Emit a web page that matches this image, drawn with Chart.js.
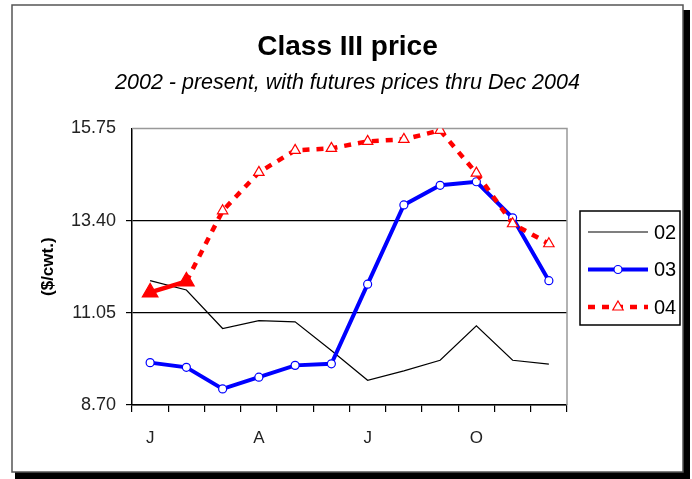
<!DOCTYPE html>
<html>
<head>
<meta charset="utf-8">
<script src="https://cdn.jsdelivr.net/npm/chart.js@4/dist/chart.umd.min.js"></script>
<style>
  html, body { margin: 0; padding: 0; background: #fff; }
  #wrap { width: 692px; height: 479px; }
</style>
</head>
<body>
<div id="wrap"><canvas id="chart" width="692" height="479"></canvas></div>
<script>
// months of the year, only J / A / J / O are labelled
const months = ['J', 'F', 'M', 'A', 'M', 'J', 'J', 'A', 'S', 'O', 'N', 'D'];
const yTicks = [8.70, 11.05, 13.40, 15.75];

// Class III price, $/cwt.
const price02 = [11.87, 11.63, 10.65, 10.85, 10.82, 10.09, 9.33, 9.57, 9.84, 10.72, 9.84, 9.74];
const price03 = [9.78, 9.66, 9.11, 9.41, 9.71, 9.75, 11.78, 13.80, 14.30, 14.39, 13.47, 11.87];
const price04 = [11.57, 11.85, 13.65, 14.63, 15.19, 15.24, 15.42, 15.47, 15.70, 14.61, 13.32, 12.81];
const actual04 = 2; // first months of 04 are actual prices, rest are futures

const FONT = '"Liberation Sans", Arial, sans-serif';

const framePlugin = {
  id: 'frame',
  beforeDraw(chart) {
    const c = chart.ctx;
    c.save();
    c.fillStyle = '#fff';
    c.fillRect(0, 0, chart.width, chart.height);
    // drop shadow
    c.fillStyle = '#000';
    c.fillRect(683, 10, 7, 469);
    c.fillRect(15, 472, 675, 7);
    c.strokeStyle = '#555';
    c.lineWidth = 1.5;
    c.strokeRect(12, 5, 671, 467);
    c.restore();
  },
  beforeDatasetsDraw(chart) {
    const a = chart.chartArea;
    const c = chart.ctx;
    c.save();
    c.strokeStyle = '#999';
    c.lineWidth = 1.5;
    c.beginPath();
    c.moveTo(a.left, a.top);
    c.lineTo(a.right, a.top);
    c.lineTo(a.right, a.bottom);
    c.stroke();
    c.restore();
  },
  afterDraw(chart) {
    // legend box, Excel style: line with marker in the middle
    const a = chart.chartArea;
    const c = chart.ctx;
    const x0 = a.right + 13, y0 = 211, w = 100, h = 114;
    c.save();
    c.strokeStyle = '#000';
    c.lineWidth = 1.5;
    c.strokeRect(x0, y0, w, h);
    chart.data.datasets.forEach((ds, i) => {
      const y = y0 + 21 + i * 37.5;
      c.strokeStyle = ds.borderColor;
      c.lineWidth = ds.borderWidth;
      c.setLineDash(ds.legendDash || []);
      c.beginPath();
      c.moveTo(x0 + 8, y);
      c.lineTo(x0 + 68, y);
      c.stroke();
      c.setLineDash([]);
      if (ds.legendRadius) {
        c.fillStyle = '#fff';
        c.strokeStyle = ds.borderColor;
        c.lineWidth = 1.2;
        Chart.helpers.drawPoint(c, { pointStyle: ds.pointStyle, radius: ds.legendRadius, rotation: 0, borderWidth: 1.2 }, x0 + 38, y);
      }
      c.fillStyle = '#000';
      c.font = '20px ' + FONT;
      c.textBaseline = 'middle';
      c.fillText(ds.label, x0 + 74, y + 1);
    });
    c.restore();
  }
};

new Chart(document.getElementById('chart'), {
  type: 'line',
  data: {
    labels: months,
    datasets: [
      {
        label: '02',
        data: price02,
        borderColor: '#000',
        borderWidth: 1.2,
        pointRadius: 0,
        order: 2
      },
      {
        label: '03',
        data: price03,
        borderColor: '#0000ff',
        borderWidth: 4,
        pointStyle: 'circle',
        pointRadius: 4,
        pointBackgroundColor: '#fff',
        pointBorderColor: '#0000ff',
        pointBorderWidth: 1.2,
        legendRadius: 4,
        order: 1
      },
      {
        label: '04',
        data: price04,
        borderColor: '#ff0000',
        borderWidth: 4.5,
        pointStyle: 'triangle',
        pointRadius: price04.map((v, i) => i < actual04 ? 9 : 6),
        pointBackgroundColor: price04.map((v, i) => i < actual04 ? '#ff0000' : '#fff'),
        pointBorderColor: '#ff0000',
        pointBorderWidth: 1.2,
        segment: {
          borderDash: ctx => ctx.p0DataIndex >= actual04 - 1 ? [7, 7] : undefined
        },
        legendDash: [7, 7],
        legendRadius: 6,
        order: 0
      }
    ]
  },
  options: {
    responsive: false,
    animation: false,
    events: [],
    layout: { padding: { top: 30, left: 12, right: 9, bottom: 24 } },
    elements: { line: { tension: 0 } },
    plugins: {
      legend: { display: false },
      tooltip: { enabled: false },
      title: {
        display: true,
        text: 'Class III price',
        color: '#000',
        font: { family: FONT, size: 28, weight: 'bold' },
        padding: { top: 0, bottom: 3 }
      },
      subtitle: {
        display: true,
        text: '2002 - present, with futures prices thru Dec 2004',
        color: '#000',
        font: { family: FONT, size: 21.5, style: 'italic' },
        padding: { top: 4, bottom: 32 }
      }
    },
    scales: {
      x: {
        offset: true,
        afterFit: s => { s.height = 50; },
        border: { color: '#000', width: 1.5 },
        grid: {
          offset: true,
          drawOnChartArea: false,
          color: '#000',
          lineWidth: 1.2,
          tickLength: 7
        },
        ticks: {
          autoSkip: false,
          maxRotation: 0,
          padding: 16,
          color: '#222',
          font: { family: FONT, size: 17 },
          callback: (v, i) => i % 3 === 0 ? months[i] : ''
        }
      },
      y: {
        min: 8.70,
        max: 15.75,
        afterFit: s => { s.width = 120; },
        afterBuildTicks: s => { s.ticks = yTicks.map(v => ({ value: v })); },
        border: { color: '#000', width: 1.5 },
        grid: {
          color: ctx => ctx.tick && ctx.tick.value === 15.75 ? 'rgba(0,0,0,0)' : '#000',
          lineWidth: 1.2,
          tickLength: 6
        },
        ticks: {
          padding: 10,
          color: '#222',
          font: { family: FONT, size: 18 },
          callback: v => v.toFixed(2)
        },
        title: {
          display: true,
          text: '($/cwt.)',
          color: '#000',
          font: { family: FONT, size: 17, weight: 'bold' },
          padding: { top: 26, bottom: 0 }
        }
      },
      // empty right-hand space holding the legend box
      legendSpace: {
        type: 'linear',
        position: 'right',
        afterFit: s => { s.width = 116; },
        grid: { display: false },
        border: { display: false },
        ticks: { display: false }
      }
    }
  },
  plugins: [framePlugin]
});
</script>
</body>
</html>
